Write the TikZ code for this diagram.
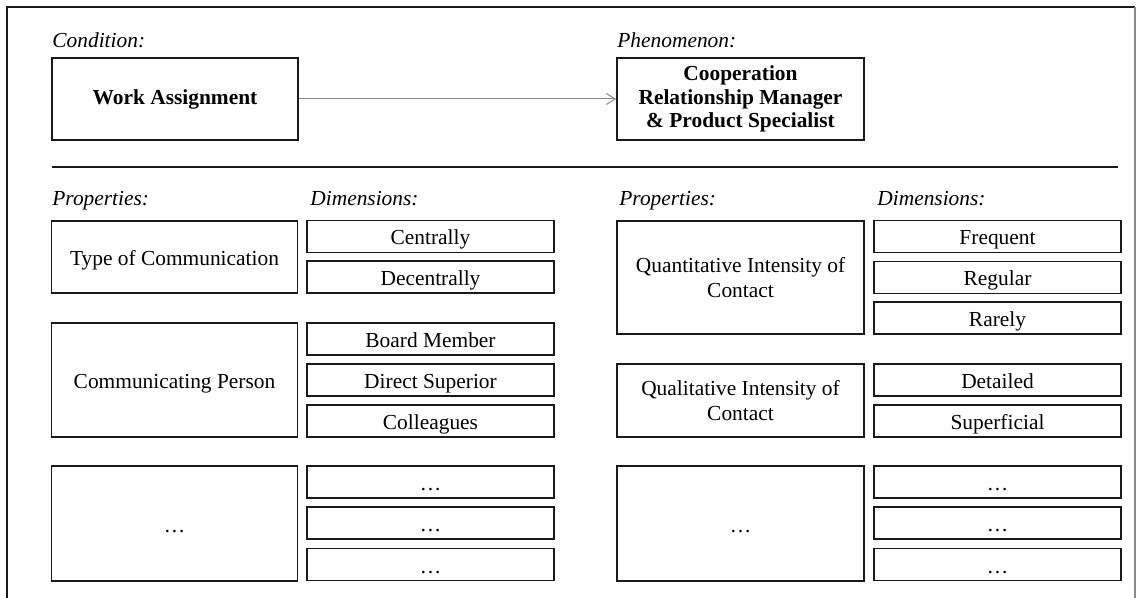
\documentclass[tikz,border=0pt]{standalone}
\usepackage{fontspec}
\setmainfont{Liberation Serif}
\usetikzlibrary{arrows.meta,positioning}
\definecolor{frame}{HTML}{1A1A1A}
\definecolor{linkgray}{HTML}{8A8A8A}
\tikzset{
  txt/.style={font=\fontsize{10.7}{12.5}\selectfont},
  hdr/.style={txt,font=\fontsize{10.7}{12.5}\selectfont\itshape,anchor=base west,inner sep=0pt},
  box/.style={txt,draw=frame,line width=.7pt,inner sep=2pt,align=center},
  headbox/.style={box,minimum width=123pt,minimum height=41pt,font=\fontsize{10.7}{11.6}\selectfont\bfseries},
  propbox/.style={box,minimum width=123pt},
  dimbox/.style={box,minimum width=123.5pt,minimum height=16pt,text height=9pt,text depth=.5pt}
}
\begin{document}
\begin{tikzpicture}[x=.5pt,y=-.5pt]
\useasboundingbox (0,0) rectangle (1139,598);
\draw[frame,line width=1.3pt] (7,598)--(7,7)--(1135,7);\draw[linkgray,line width=.65pt] (1135,7)--(1135,598);
% condition and phenomenon
\node[hdr] (condlbl) at (52,48) {Condition:};
\node[hdr] (phenlbl) at (617,48) {Phenomenon:};
\node[headbox] (work) at (175,99) {Work Assignment};
\node[headbox,minimum width=123.5pt] (coop) at (740.5,99) {Cooperation\\Relationship Manager\\\& Product Specialist};
\draw[linkgray,line width=.5pt,-{Straight Barb[length=4.5pt,width=5.5pt]}] (work)--(coop);
\coordinate (ruleL) at (52,167);\coordinate (ruleR) at (1118,167);
\draw[frame,line width=.8pt] (ruleL)--(ruleR);
% left half
\node[hdr] (propL) at (52,206) {Properties:};
\node[hdr] (dimL) at (310,206) {Dimensions:};
\node[propbox,minimum height=36pt,text height=9pt,text depth=.5pt] (type) at (174.5,257) {Type of Communication};
\node[dimbox] (centr) at (430.5,236.5) {Centrally};
\node[dimbox] (decentr) at (430.5,277) {Decentrally};
\node[propbox,minimum height=57pt,text height=9pt,text depth=.5pt] (person) at (174.5,380) {Communicating Person};
\node[dimbox] (board) at (430.5,339) {Board Member};
\node[dimbox] (superior) at (430.5,380) {Direct Superior};
\node[dimbox] (colleag) at (430.5,421) {Colleagues};
\node[propbox,minimum height=57.5pt,text height=9pt,text depth=.5pt] (moreL) at (174.5,523.5) {\dots};
\node[dimbox] (moreLa) at (430.5,482) {\dots};
\node[dimbox] (moreLb) at (430.5,523) {\dots};
\node[dimbox] (moreLc) at (430.5,564.5) {\dots};
% right half
\node[hdr] (propR) at (619,206) {Properties:};
\node[hdr] (dimR) at (877,206) {Dimensions:};
\node[propbox,minimum height=56.5pt,minimum width=123.5pt] (quant) at (740.5,277.5) {Quantitative Intensity of\\Contact};
\node[dimbox] (freq) at (997.5,236.5) {Frequent};
\node[dimbox] (regular) at (997.5,277.5) {Regular};
\node[dimbox] (rarely) at (997.5,318) {Rarely};
\node[propbox,minimum height=36.5pt,minimum width=123.5pt] (qual) at (740.5,400.5) {Qualitative Intensity of\\Contact};
\node[dimbox] (detail) at (997.5,380) {Detailed};
\node[dimbox] (superf) at (997.5,421) {Superficial};
\node[propbox,minimum height=57.5pt,minimum width=123.5pt,text height=9pt,text depth=.5pt] (moreR) at (740.5,523.5) {\dots};
\node[dimbox] (moreRa) at (997.5,482) {\dots};
\node[dimbox] (moreRb) at (997.5,523) {\dots};
\node[dimbox] (moreRc) at (997.5,564.5) {\dots};
\end{tikzpicture}
\end{document}
